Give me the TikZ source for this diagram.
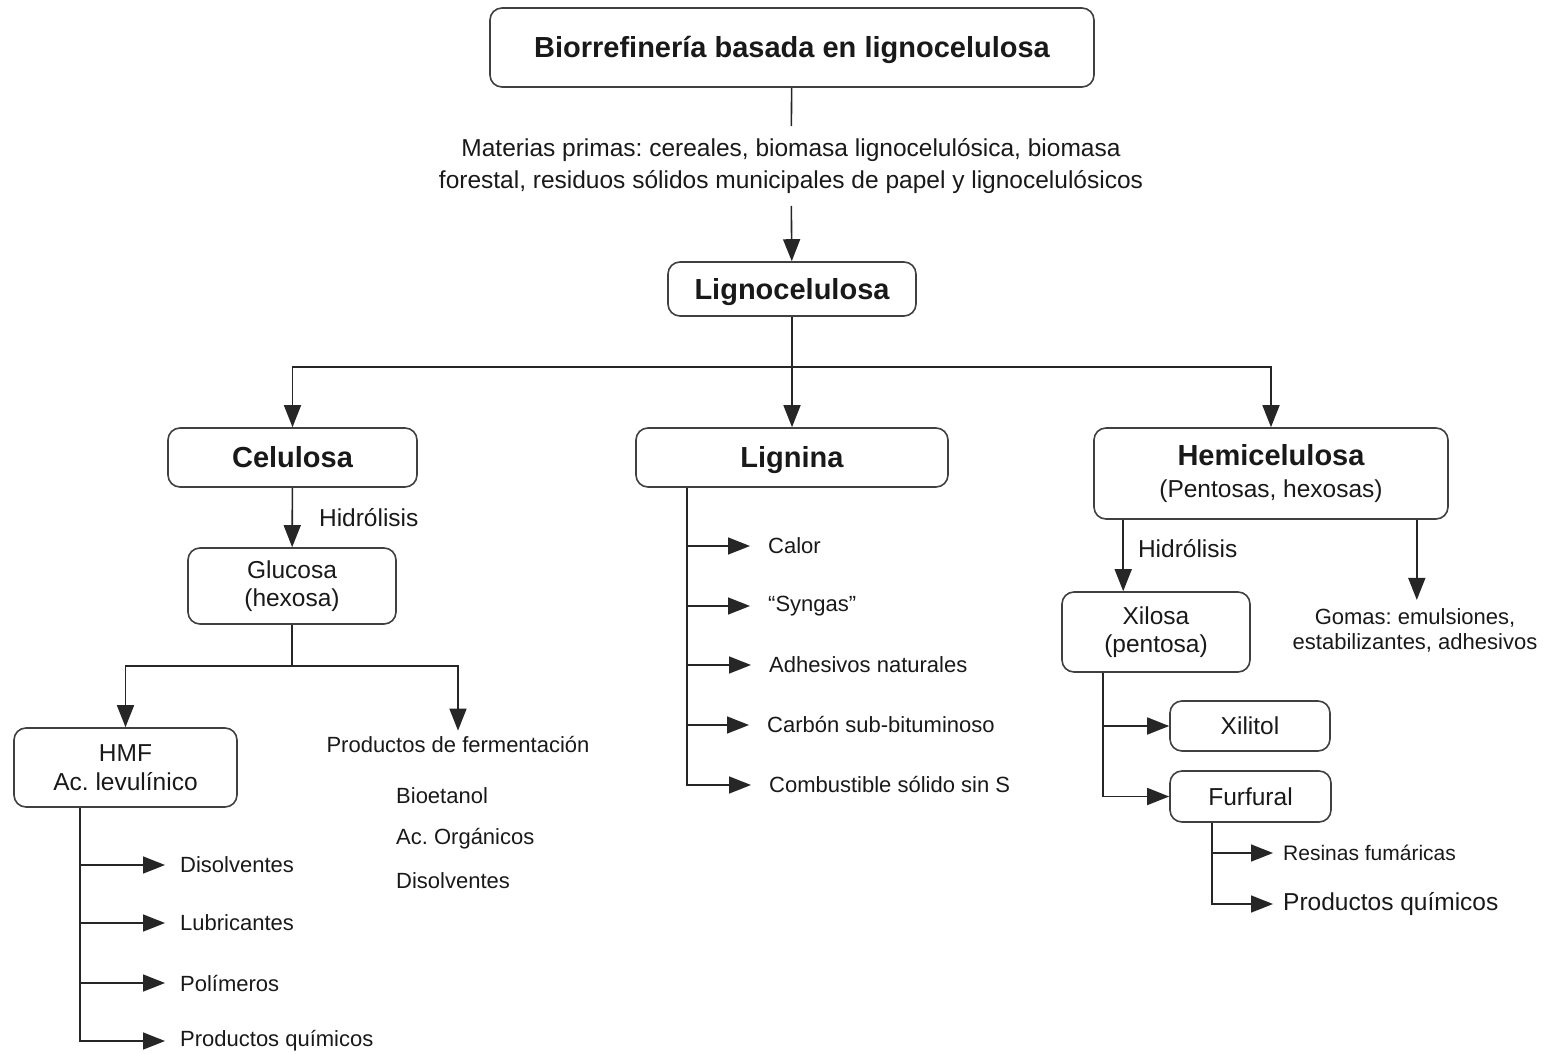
\documentclass[tikz,border=0pt]{standalone}
\usepackage{fontspec}
\setmainfont{Liberation Sans}
\frenchspacing
\usetikzlibrary{arrows.meta,positioning,calc}

\newcommand{\grande}{\fontsize{29}{33}\selectfont\bfseries}
\newcommand{\medio}{\fontsize{24.5}{28}\selectfont}
\newcommand{\chico}{\fontsize{22}{25}\selectfont}

\begin{document}
\begin{tikzpicture}[x=1pt,y=-1pt]
%caja : rectangulo redondeado, flecha : punta triangular llena
\tikzset{caja/.style={draw=black!75,line width=1.6pt,rounded corners=12pt,align=center,text=black!90,inner sep=0pt},
filag/.style={text height=26.8pt,text depth=6pt}, %una sola linea, negrita
filam/.style={text height=23pt,text depth=5.5pt},
flecha/.style={line width=1.6pt,draw=black!85,-{Triangle[length=22pt,width=17pt]}},
linea/.style={line width=1.6pt,draw=black!85},
item/.style={anchor=west,inner sep=0pt,text=black!90,font=\chico}} %texto de los productos
\useasboundingbox (0,0) rectangle (1545,1054);

\node[caja,filag,minimum width=604pt,minimum height=79pt,font=\grande] (bio) at (792,47.5) {Biorrefinería basada en lignocelulosa};
\node[align=center,inner xsep=0pt,inner ysep=12pt,text=black!90,font={\fontsize{24.5}{32}\selectfont}] (mat) at (791,166) {Materias primas: cereales, biomasa lignocelulósica, biomasa\\forestal, residuos sólidos municipales de papel y lignocelulósicos};
\node[caja,filag,minimum width=248pt,minimum height=54pt,font=\grande] (ligno) at (792,289) {Lignocelulosa};
\draw[linea] (bio) -- (mat);
\draw[flecha] (mat) -- (ligno);

% las tres fracciones
\node[caja,filag,minimum width=249pt,minimum height=59pt,font=\grande] (celu) at (292.5,457.5) {Celulosa};
\node[caja,filag,minimum width=312pt,minimum height=59pt,font=\grande] (lign) at (792,457.5) {Lignina};
\node[caja,minimum width=354pt,minimum height=91pt,font={\fontsize{24.5}{32}\selectfont}] (hemi) at (1271,473.5) {{\grande Hemicelulosa}\\(Pentosas, hexosas)};
\draw[linea] (ligno.south) -- ++(0,50) coordinate (rep);
\draw[flecha] (rep) -| (celu);
\draw[flecha] (rep) -- (lign);
\draw[flecha] (rep) -| (hemi);

% celulosa
\node[caja,minimum width=208pt,minimum height=76pt,font=\medio] (gluc) at (292,586) {Glucosa\\(hexosa)};
\draw[flecha] (celu) -- node[right=26pt,inner sep=0pt,text=black!90,font=\medio] (hid1) {Hidrólisis} (gluc);
\node[caja,minimum width=223pt,minimum height=79pt,font={\fontsize{24.5}{29}\selectfont}] (hmf) at (125.5,767.5) {HMF\\Ac. levulínico};
\node[inner xsep=0pt,inner ysep=6pt,text=black!90,font=\chico] (ferm) at (458,745) {Productos de fermentación};
\draw[linea] (gluc.south) -- ++(0,41) coordinate (rg);
\draw[flecha] (rg) -| (hmf);
\draw[flecha] (rg) -| (ferm);
\node[item] (bioe) at (396,796) {Bioetanol};
\node[item] (acor) at (396,839) {Ac. Orgánicos};
\node[item] (dis2) at (396,881) {Disolventes};

\node[item] (dis1) at (180,865) {Disolventes};
\node[item] (lubr) at (180,923) {Lubricantes};
\node[item] (poli) at (180,983) {Polímeros};
\node[item] (pq1) at (180,1041) {Productos químicos};
\coordinate (hb) at ($(hmf.south west)+(67,0)$);
\draw[flecha,shorten >=15pt] (hb) |- (dis1);
\draw[flecha,shorten >=15pt] (hb) |- (lubr);
\draw[flecha,shorten >=15pt] (hb) |- (poli);
\draw[flecha,shorten >=15pt] (hb) |- (pq1);

% lignina
\node[item] (calor) at (768,546) {Calor};
\node[item] (syng) at (768,606) {``Syngas''};
\node[item] (adhe) at (769,665) {Adhesivos naturales};
\node[item] (carb) at (767,725) {Carbón sub-bituminoso};
\node[item] (comb) at (769,785) {Combustible sólido sin S};
\coordinate (lb) at ($(lign.south west)+(52,0)$);
\draw[flecha,shorten >=18pt] (lb) |- (calor);
\draw[flecha,shorten >=18pt] (lb) |- (syng);
\draw[flecha,shorten >=18pt] (lb) |- (adhe);
\draw[flecha,shorten >=18pt] (lb) |- (carb);
\draw[flecha,shorten >=18pt] (lb) |- (comb);

% hemicelulosa
\node[caja,minimum width=188pt,minimum height=80pt,font=\medio] (xil) at (1156,632) {Xilosa\\(pentosa)};
\node[align=center,inner xsep=0pt,inner ysep=8pt,text=black!90,font=\chico] (gom) at (1415,630) {Gomas: emulsiones,\\estabilizantes, adhesivos};
\coordinate (hh) at ($(hemi.south west)+(30,0)$);
\coordinate (hg) at ($(hemi.south east)+(-32,0)$);
\draw[flecha] (hh) -- (hh |- xil.north) node[pos=0.4,right=14pt,inner sep=0pt,text=black!90,font=\medio] (hid2) {Hidrólisis};
\draw[flecha] (hg) -- (hg |- gom.north);

\node[caja,filam,minimum width=160pt,minimum height=50pt,font=\medio] (xit) at (1250,726) {Xilitol};
\node[caja,filam,minimum width=161pt,minimum height=51pt,font=\medio] (fur) at (1250.5,796.5) {Furfural};
\coordinate (xb) at ($(xil.south west)+(42,0)$);
\draw[flecha] (xb) |- (xit);
\draw[flecha] (xb) |- (fur);

\node[item,font={\fontsize{21}{25}\selectfont}] (resi) at (1283,853) {Resinas fumáricas};
\node[item,font=\medio] (pq2) at (1283,904) {Productos químicos};
\coordinate (fb) at ($(fur.south west)+(43,0)$);
\draw[flecha,shorten >=10pt] (fb) |- (resi);
\draw[flecha,shorten >=10pt] (fb) |- (pq2);
\end{tikzpicture}
\end{document}
